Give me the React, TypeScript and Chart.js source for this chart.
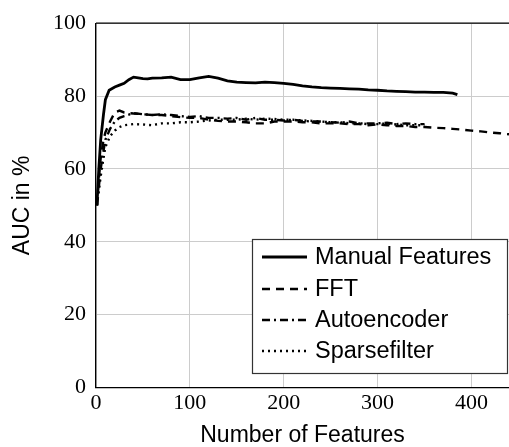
import React, { useEffect, useRef } from "react";
import { Chart, registerables } from "chart.js";

Chart.register(...registerables);

const seriesLabels = ["Manual Features", "FFT", "Autoencoder", "Sparsefilter"];

const manualX = [1, 3, 5, 8, 10, 14, 20, 25, 30, 35, 40, 45, 50, 55, 60, 70, 80, 90, 100, 110, 120, 130, 140, 150, 160, 170, 180, 190, 200, 210, 220, 230, 240, 250, 260, 270, 280, 290, 300, 310, 320, 330, 340, 350, 360, 370, 380, 385];
const manualY = [50, 60, 68, 75, 79, 81.6, 82.5, 83, 83.5, 84.5, 85.2, 85, 84.8, 84.7, 84.9, 85, 85.2, 84.5, 84.5, 85, 85.4, 84.9, 84.2, 83.8, 83.7, 83.6, 83.8, 83.7, 83.5, 83.2, 82.8, 82.5, 82.3, 82.2, 82.1, 82, 81.9, 81.7, 81.6, 81.4, 81.3, 81.2, 81.1, 81.1, 81, 81, 80.8, 80.4];

const fftX = [1, 3, 5, 8, 10, 15, 20, 25, 30, 40, 50, 60, 70, 80, 90, 100, 110, 120, 130, 140, 150, 160, 170, 180, 190, 200, 210, 220, 230, 240, 250, 260, 270, 280, 290, 300, 310, 320, 330, 340, 350, 360, 370, 380, 390, 400, 410, 420, 430, 440];
const fftY = [50, 57, 63, 68, 70, 73, 75.5, 76, 75.5, 75.2, 75, 74.8, 74.8, 74.5, 74.2, 74, 74, 73.5, 73.2, 73, 73, 72.8, 72.5, 72.5, 73, 73, 73, 72.8, 72.8, 72.5, 72.5, 72.5, 72.3, 72.3, 72, 72.2, 72, 71.8, 71.8, 71.5, 71.5, 71.3, 71.2, 71, 70.8, 70.5, 70.3, 70, 69.8, 69.5];

const aeX = [1, 3, 5, 8, 10, 15, 20, 25, 30, 40, 50, 60, 70, 80, 90, 100, 110, 120, 130, 140, 150, 160, 170, 180, 190, 200, 210, 220, 230, 240, 250, 260, 270, 280, 290, 300, 310, 320, 330, 340, 350];
const aeY = [50, 55, 60, 65, 68, 71, 73, 74, 74.5, 75.3, 75, 74.8, 75, 74.8, 74.5, 74.3, 74.5, 74, 74, 73.8, 74, 73.5, 74, 73.5, 73.5, 73.3, 73.5, 73.2, 73, 73, 72.8, 72.7, 73, 72.5, 72.5, 72.5, 72.7, 72.3, 72.5, 72.3, 72.3];

const sfX = [1, 3, 5, 8, 10, 15, 20, 25, 30, 40, 50, 60, 70, 80, 90, 100, 110, 120, 130, 140, 150, 160, 170, 180, 190, 200, 210, 220, 230, 240, 250, 260, 270, 280, 290, 300, 310, 320, 330, 340, 350];
const sfY = [50, 54, 58, 63, 66, 69, 70.5, 71.5, 72, 72.3, 72.2, 72, 72.5, 72.5, 72.8, 72.8, 73, 73.3, 73.5, 73.5, 73.5, 73.8, 73.5, 73.8, 73.7, 73.5, 73.5, 73.3, 73.2, 73, 72.8, 72.8, 72.5, 72.5, 72.3, 72.3, 72.5, 72.2, 72, 72, 72];

const xTitle = "Number of Features";
const yTitle = "AUC in %";

const toPts = (xs: number[], ys: number[]) => xs.map((x, i) => ({ x, y: ys[i] }));

const styles = [
  { width: 2.8, dash: [] as number[] },
  { width: 2.4, dash: [8, 6] },
  { width: 2.4, dash: [8, 4, 2, 4] },
  { width: 2.4, dash: [2, 4] },
];

const SANS = "'Liberation Sans', Arial, sans-serif";
const SERIF = "'Liberation Serif', 'Times New Roman', serif";

const framePlugin = {
  id: "frameLegend",
  afterDraw(chart: any) {
    const ctx = chart.ctx;
    const a = chart.chartArea;
    ctx.save();
    ctx.strokeStyle = "#000";
    ctx.lineWidth = 1.3;
    ctx.beginPath();
    ctx.moveTo(a.left, a.top);
    ctx.lineTo(a.right, a.top);
    ctx.stroke();
    const bx = 252, by = 239, bw = 256, bh = 135;
    ctx.fillStyle = "#fff";
    ctx.fillRect(bx, by, bw, bh);
    ctx.strokeStyle = "#333";
    ctx.lineWidth = 1.2;
    ctx.strokeRect(bx + 0.5, by + 0.5, bw - 1, bh - 1);
    const rowY = [257, 289, 320, 351];
    ctx.font = "23.5px " + SANS;
    ctx.textBaseline = "middle";
    ctx.textAlign = "left";
    chart.data.datasets.forEach((ds: any, i: number) => {
      ctx.strokeStyle = "#000";
      ctx.lineWidth = ds.borderWidth;
      ctx.setLineDash(ds.borderDash || []);
      ctx.beginPath();
      ctx.moveTo(262, rowY[i]);
      ctx.lineTo(307, rowY[i]);
      ctx.stroke();
      ctx.setLineDash([]);
      ctx.fillStyle = "#000";
      ctx.fillText(ds.label, 315, rowY[i] + 1);
    });
    ctx.restore();
  },
};

export default function App() {
  const ref = useRef<HTMLCanvasElement>(null);
  useEffect(() => {
    const data = [toPts(manualX, manualY), toPts(fftX, fftY), toPts(aeX, aeY), toPts(sfX, sfY)];
    const chart = new Chart(ref.current!, {
      type: "line",
      data: {
        datasets: data.map((d, i) => ({
          label: seriesLabels[i],
          data: d,
          borderColor: "#000",
          backgroundColor: "#000",
          borderWidth: styles[i].width,
          borderDash: styles[i].dash,
          pointRadius: 0,
          tension: 0,
          fill: false,
        })),
      },
      options: {
        animation: false,
        responsive: false,
        maintainAspectRatio: false,
        layout: { padding: { top: 21, right: 0, left: 0, bottom: 0 } },
        plugins: { legend: { display: false }, tooltip: { enabled: false } },
        scales: {
          x: {
            type: "linear",
            min: 0,
            max: 440,
            afterFit: (s: any) => { s.height = 59.5; },
            ticks: {
              stepSize: 100,
              includeBounds: false,
              color: "#000",
              padding: 3,
              maxRotation: 0,
              font: { family: SERIF, size: 22 },
            },
            grid: { color: "#cccccc", lineWidth: 1, drawTicks: false },
            border: { color: "#000", width: 1.3 },
            title: {
              display: true,
              text: xTitle,
              color: "#000",
              font: { family: SANS, size: 23, lineHeight: 1 },
              padding: { top: 0, bottom: 0 },
            },
          },
          y: {
            type: "linear",
            min: 0,
            max: 100,
            afterFit: (s: any) => { s.width = 96; },
            ticks: {
              stepSize: 20,
              color: "#000",
              padding: 10,
              font: { family: SERIF, size: 22 },
            },
            grid: { color: "#cccccc", lineWidth: 1, drawTicks: false },
            border: { color: "#000", width: 1.3 },
            title: {
              display: true,
              text: yTitle,
              color: "#000",
              font: { family: SANS, size: 23, lineHeight: 1 },
              padding: { top: 11.5, bottom: 0 },
            },
          },
        },
      },
      plugins: [framePlugin],
    } as any);
    return () => chart.destroy();
  }, []);
  return (
    <div style={{ position: "absolute", left: 0, top: 0, width: 509, height: 447, background: "#fff" }}>
      <canvas ref={ref} width={509} height={447} style={{ width: 509, height: 447, display: "block" }} />
    </div>
  );
}
